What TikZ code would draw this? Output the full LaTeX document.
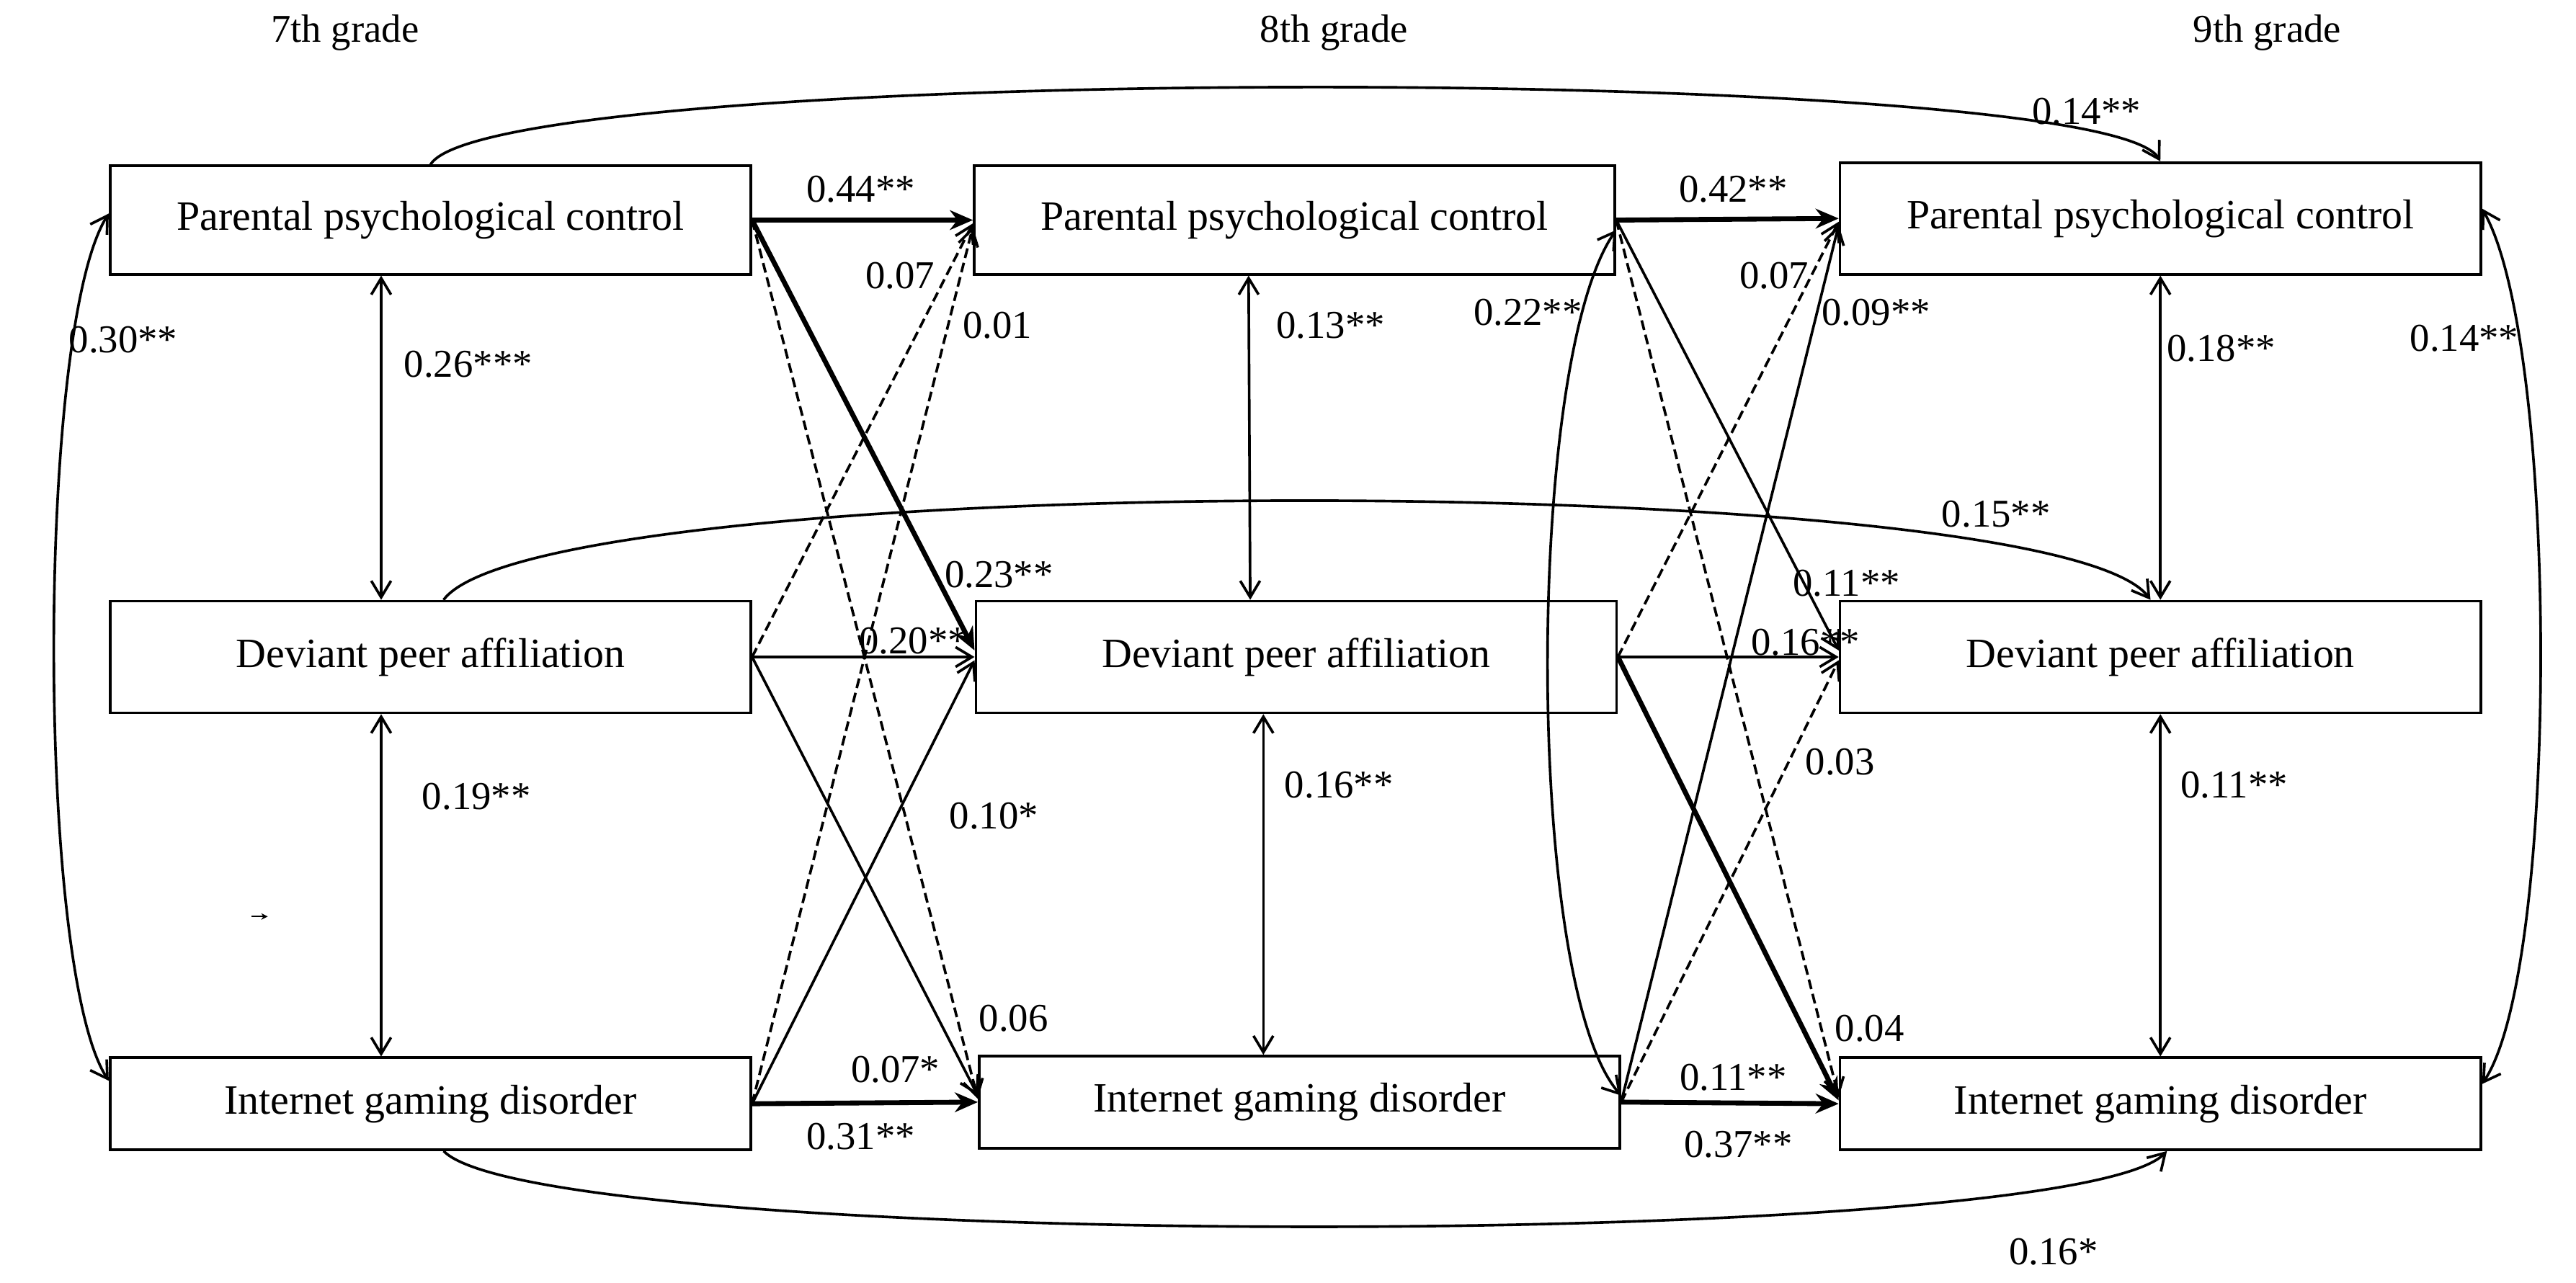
\documentclass[tikz,border=0pt]{standalone}
\usepackage{fontspec}
\setmainfont{Liberation Serif}
\usetikzlibrary{arrows.meta}
\begin{document}
\begin{tikzpicture}[x=0.5pt,y=-0.5pt,
  box/.style={draw,line width=0.8pt,minimum width=195pt,font=\fontsize{12.7}{14}\selectfont,inner sep=0pt},
  lab/.style={font=\fontsize{12}{14}\selectfont,inner sep=0pt},
  th/.style={line width=0.8pt,-{Straight Barb[length=5pt,width=6pt]}},
  tk/.style={line width=1.5pt,-{Stealth[length=7pt,width=6pt]}},
  ds/.style={line width=0.8pt,dash pattern=on 3pt off 1.5pt,-{Straight Barb[length=5pt,width=6pt]}},
  cv/.style={line width=0.8pt,{Straight Barb[length=5pt,width=6pt]}-{Straight Barb[length=5pt,width=6pt]}}]
\useasboundingbox (0,0) rectangle (1568,781);
% grade labels
\node[lab] (g7) at (210,20) {7th grade};
\node[lab] (g8) at (812,20) {8th grade};
\node[lab] (g9) at (1380,20) {9th grade};
% boxes
\node[box,minimum height=33pt] (p1) at (262,134) {Parental psychological control};
\node[box,minimum height=34pt] (d1) at (262,400) {Deviant peer affiliation};
\node[box,minimum height=28pt] (i1) at (262,672) {Internet gaming disorder};
\node[box,minimum height=33pt] (p2) at (788,134) {Parental psychological control};
\node[box,minimum height=34pt] (d2) at (789,400) {Deviant peer affiliation};
\node[box,minimum height=28pt] (i2) at (791,671) {Internet gaming disorder};
\node[box,minimum height=34pt] (p3) at (1315,133) {Parental psychological control};
\node[box,minimum height=34pt] (d3) at (1315,400) {Deviant peer affiliation};
\node[box,minimum height=28pt] (i3) at (1315,672) {Internet gaming disorder};
% cross-lagged 7 -> 8
\draw[tk] (p1.east) -- (p2.west);
\draw[tk] (p1.east) -- ([yshift=2pt]d2.west);
\draw[ds] (p1.east) -- ([yshift=1pt]i2.west);
\draw[ds] (d1.east) -- ([yshift=-1pt]p2.west);
\draw[th] (d1.east) -- (d2.west);
\draw[th] (d1.east) -- ([yshift=2pt]i2.west);
\draw[ds] (i1.east) -- ([yshift=-2pt]p2.west);
\draw[th] (i1.east) -- ([yshift=-1pt]d2.west);
\draw[tk] (i1.east) -- (i2.west);
% cross-lagged 8 -> 9
\draw[tk] (p2.east) -- (p3.west);
\draw[th] (p2.east) -- ([yshift=2pt]d3.west);
\draw[ds] (p2.east) -- ([yshift=2pt]i3.west);
\draw[ds] (d2.east) -- ([yshift=-1pt]p3.west);
\draw[th] (d2.east) -- (d3.west);
\draw[tk] (d2.east) -- ([yshift=1pt]i3.west);
\draw[th] (i2.east) -- ([yshift=-2pt]p3.west);
\draw[ds] (i2.east) -- ([yshift=-1pt]d3.west);
\draw[tk] (i2.east) -- (i3.west);
% long arcs
\draw[th] (p1.north) .. controls (300,38) and (1280,38) .. (p3.north);
\draw[th] ([xshift=4pt]d1.north) .. controls (330,285) and (1250,285) .. ([xshift=-3pt]d3.north);
\draw[th] ([xshift=4pt]i1.south) .. controls (330,762) and (1260,762) .. ([xshift=2pt]i3.south);
% covariances
\draw[cv] ([yshift=2pt]p1.west) .. controls (22,200) and (22,590) .. ([yshift=7pt]i1.west);
\draw[cv] ([yshift=-3pt]p2.east) .. controls (928,220) and (928,600) .. ([yshift=2pt]i2.east);
\draw[cv] ([yshift=3pt]p3.east) .. controls (1558,210) and (1558,590) .. ([yshift=6pt]i3.east);
\draw[cv] ([xshift=-15pt]p1.south) -- ([xshift=-15pt]d1.north);
\draw[cv] ([xshift=-15pt]d1.south) -- ([xshift=-15pt]i1.north);
\draw[cv] ([xshift=-14pt]p2.south) -- ([xshift=-14pt]d2.north);
\draw[cv] ([xshift=-10pt]d2.south) -- ([xshift=-11pt]i2.north);
\draw[cv] (p3.south) -- (d3.north);
\draw[cv] (d3.south) -- (i3.north);
% stray small arrow
\coordinate (sa) at (153,558);
\coordinate (sb) at (163,558);
\draw[line width=0.5pt,-{Stealth[length=2pt,width=2pt]}] (sa) -- (sb);
% labels
\node[lab] (a1) at (285,222) {0.26***};
\node[lab] (a2) at (290,485) {0.19**};
\node[lab] (a3) at (75,207) {0.30**};
\node[lab] (a4) at (810,198) {0.13**};
\node[lab] (a5) at (815,478) {0.16**};
\node[lab] (a6) at (930,190) {0.22**};
\node[lab] (a7) at (1352,212) {0.18**};
\node[lab] (a8) at (1360,478) {0.11**};
\node[lab] (a9) at (1500,206) {0.14**};
\node[lab] (b1) at (524,115) {0.44**};
\node[lab] (b2) at (548,168) {0.07};
\node[lab] (b3) at (607,198) {0.01};
\node[lab] (b4) at (608,350) {0.23**};
\node[lab] (b5) at (556,390) {0.20**};
\node[lab] (b6) at (605,497) {0.10*};
\node[lab] (b7) at (617,620) {0.06};
\node[lab] (b8) at (545,651) {0.07*};
\node[lab] (b9) at (524,692) {0.31**};
\node[lab] (c1) at (1055,115) {0.42**};
\node[lab] (c2) at (1080,168) {0.07};
\node[lab] (c3) at (1142,190) {0.09**};
\node[lab] (c4) at (1124,355) {0.11**};
\node[lab] (c5) at (1099,391) {0.16**};
\node[lab] (c6) at (1120,464) {0.03};
\node[lab] (c7) at (1138,626) {0.04};
\node[lab] (c8) at (1055,656) {0.11**};
\node[lab] (c9) at (1058,697) {0.37**};
\node[lab] (e1) at (1270,68) {0.14**};
\node[lab] (e2) at (1215,313) {0.15**};
\node[lab] (e3) at (1250,762) {0.16*};
\end{tikzpicture}
\end{document}
